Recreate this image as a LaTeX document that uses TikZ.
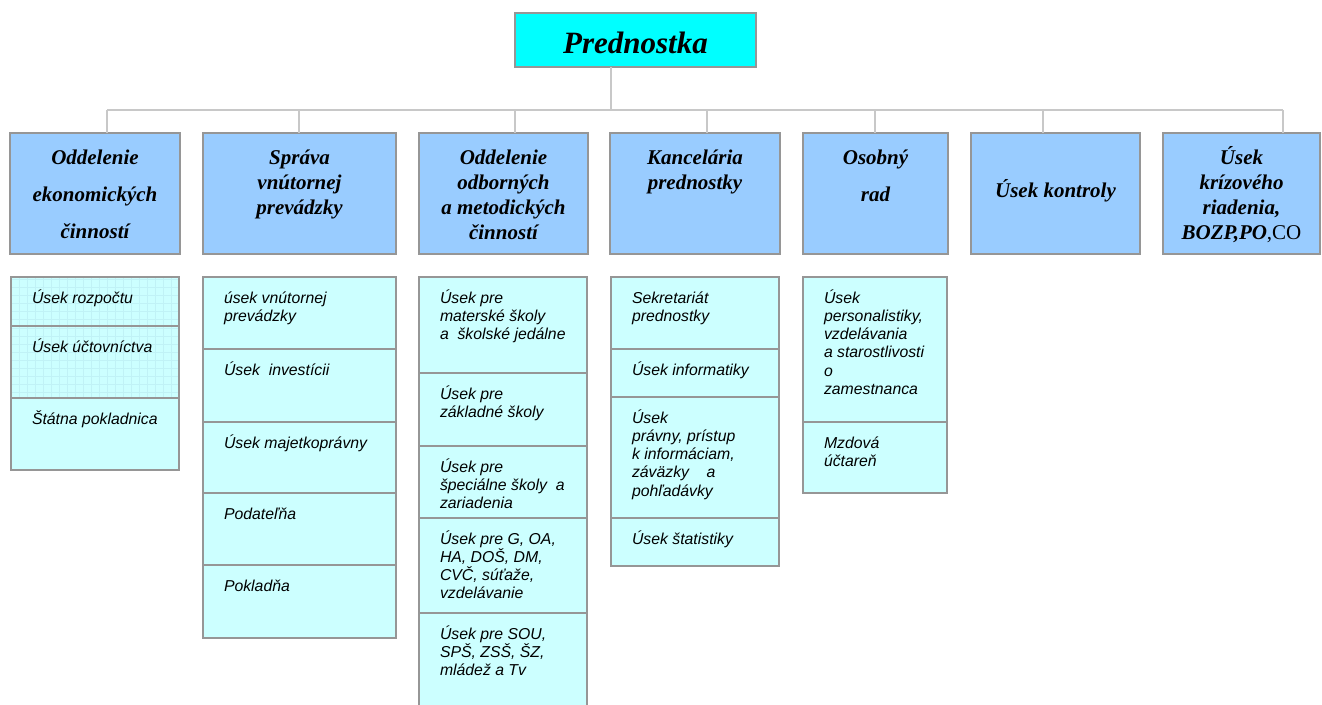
\documentclass[tikz,border=0pt]{standalone}
\usepackage{fontspec}
\setmainfont{Liberation Serif}
\newfontfamily\arialfont{Liberation Sans}
\definecolor{predcyan}{RGB}{0,255,255}
\definecolor{topblue}{RGB}{153,204,255}
\definecolor{subcyan}{RGB}{204,255,255}
\definecolor{bordergray}{RGB}{150,150,150}
\definecolor{linegray}{RGB}{200,200,200}
\definecolor{gridcyan}{RGB}{192,242,246}
\newcommand{\topfnt}{\fontsize{21}{25}\selectfont\bfseries\itshape}
\newcommand{\subfnt}{\arialfont\itshape\fontsize{15.8}{18.3}\selectfont}
\newcommand{\toptxt}[4]{\parbox[t][#2pt][t]{#1pt}{\centering\rule{0pt}{#3pt}#4}}
\newcommand{\celltxt}[3]{\parbox[t][#2pt][t]{#1pt}{\raggedright\leftskip=21pt\relax\rule{0pt}{26pt}#3}}
\begin{document}
\begin{tikzpicture}[x=1pt,y=-1pt,
  boxbase/.style={draw=bordergray, line width=1.6pt, inner sep=0pt, outer sep=0pt, anchor=north west},
  predbox/.style={boxbase, fill=predcyan, font=\fontsize{31}{36}\selectfont\bfseries\itshape},
  topbox/.style={boxbase, fill=topblue, font=\topfnt},
  cellbox/.style={boxbase, fill=subcyan, font=\subfnt},
  gridcell/.style={cellbox, path picture={\draw[gridcyan, line width=0.4pt, step=8pt]
     (path picture bounding box.south west) grid (path picture bounding box.north east);}},
  conn/.style={draw=linegray, line width=2pt}]
\useasboundingbox (0,0) rectangle (1322,704);
\clip (0,0) rectangle (1322,704);

% head
\node[predbox] (pred) at (515,13) {\parbox[t][54pt][t]{241pt}{\centering\rule{0pt}{40pt}Prednostka}};

% top level boxes
\node[topbox] (b1) at (10,133)  {\toptxt{170}{121}{31}{Oddelenie\\[12pt]ekonomických\\[12pt]činností}};
\node[topbox] (b2) at (203,133) {\toptxt{193}{121}{31}{Správa\\vnútornej\\prevádzky}};
\node[topbox] (b3) at (419,133) {\toptxt{169}{121}{31}{Oddelenie\\odborných\\a metodických\\činností}};
\node[topbox] (b4) at (610,133) {\toptxt{170}{121}{31}{Kancelária\\prednostky}};
\node[topbox] (b5) at (803,133) {\toptxt{145}{121}{31}{Osobný\\[12pt]rad}};
\node[topbox] (b6) at (971,133) {\toptxt{169}{121}{64}{Úsek kontroly}};
\node[topbox] (b7) at (1163,133) {\toptxt{157}{121}{31}{Úsek\\krízového\\riadenia,\\BOZP,PO{\upshape\mdseries,CO}}};

% connectors
\coordinate (pv) at (611,110);
\coordinate (t1) at (107,110);
\coordinate (t2) at (299,110);
\coordinate (t3) at (515,110);
\coordinate (t4) at (707,110);
\coordinate (t5) at (875,110);
\coordinate (t6) at (1043,110);
\coordinate (t7) at (1283,110);
\draw[conn] (pred.south -| pv) -- (pv);
\draw[conn] (t1) -- (t7);
\draw[conn] (t1) -- (t1 |- b1.north);
\draw[conn] (t2) -- (t2 |- b2.north);
\draw[conn] (t3) -- (t3 |- b3.north);
\draw[conn] (t4) -- (t4 |- b4.north);
\draw[conn] (t5) -- (t5 |- b5.north);
\draw[conn] (t6) -- (t6 |- b6.north);
\draw[conn] (t7) -- (t7 |- b7.north);

% column 1
\node[gridcell] (c11) at (11,277) {\celltxt{168}{49}{Úsek rozpočtu}};
\node[gridcell] (c12) at (11,326) {\celltxt{168}{72}{Úsek účtovníctva}};
\node[cellbox]  (c13) at (11,398) {\celltxt{168}{72}{Štátna pokladnica}};

% column 2
\node[cellbox] (c21) at (203,277) {\celltxt{193}{72}{úsek vnútornej\\prevádzky}};
\node[cellbox] (c22) at (203,349) {\celltxt{193}{73}{Úsek\ \ investícii}};
\node[cellbox] (c23) at (203,422) {\celltxt{193}{71}{Úsek majetkoprávny}};
\node[cellbox] (c24) at (203,493) {\celltxt{193}{72}{Podateľňa}};
\node[cellbox] (c25) at (203,565) {\celltxt{193}{73}{Pokladňa}};

% column 3
\node[cellbox] (c31) at (419,277) {\celltxt{168}{96}{Úsek pre\\materské školy\\a\ \ školské jedálne}};
\node[cellbox] (c32) at (419,373) {\celltxt{168}{73}{Úsek pre\\základné školy}};
\node[cellbox] (c33) at (419,446) {\celltxt{168}{72}{Úsek pre\\špeciálne školy\ \ a\\zariadenia}};
\node[cellbox] (c34) at (419,518) {\celltxt{168}{95}{Úsek pre G, OA,\\HA, DOŠ, DM,\\CVČ, súťaže,\\vzdelávanie}};
\node[cellbox] (c35) at (419,613) {\celltxt{168}{110}{Úsek pre SOU,\\SPŠ, ZSŠ, ŠZ,\\mládež a Tv}};

% column 4
\node[cellbox] (c41) at (611,277) {\celltxt{168}{72}{Sekretariát\\prednostky}};
\node[cellbox] (c42) at (611,349) {\celltxt{168}{48}{Úsek informatiky}};
\node[cellbox] (c43) at (611,397) {\celltxt{168}{121}{Úsek\\právny, prístup\\k informáciam,\\záväzky\ \ \ \ a\\pohľadávky}};
\node[cellbox] (c44) at (611,518) {\celltxt{168}{48}{Úsek štatistiky}};

% column 5
\node[cellbox] (c51) at (803,277) {\celltxt{144}{145}{Úsek\\personalistiky,\\vzdelávania\\a starostlivosti\\o\\zamestnanca}};
\node[cellbox] (c52) at (803,422) {\celltxt{144}{71}{Mzdová\\účtareň}};
\end{tikzpicture}
\end{document}
